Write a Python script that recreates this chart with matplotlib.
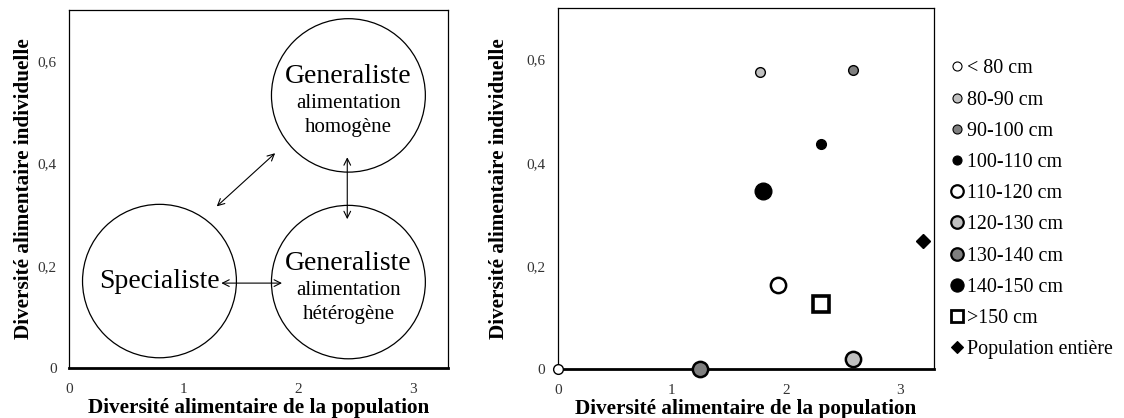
import matplotlib
matplotlib.use("Agg")
import matplotlib.pyplot as plt
from matplotlib.patches import Ellipse
from matplotlib.lines import Line2D

plt.rcParams['font.family'] = ['Liberation Serif', 'DejaVu Serif']

# data (right panel)
classes = ['< 80 cm', '80-90 cm', '90-100 cm', '100-110 cm', '110-120 cm',
           '120-130 cm', '130-140 cm', '140-150 cm', '>150 cm', 'Population entière']
pop_div = [0.0, 1.77, 2.59, 2.31, 1.93, 2.59, 1.25, 1.80, 2.31, 3.20]
ind_div = [0.0, 0.575, 0.579, 0.437, 0.163, 0.019, 0.0, 0.346, 0.126, 0.248]

# marker styles
faces = ['white', '#c0c0c0', '#7f7f7f', 'black', 'white', '#c0c0c0', '#7f7f7f', 'black', 'white', 'black']
shapes = ['o', 'o', 'o', 'o', 'o', 'o', 'o', 'o', 's', 'D']
sizes = [7, 7, 7, 7, 11, 11, 11, 12, 11, 7.5]
edge_w = [1.0, 1.0, 1.0, 1.0, 1.8, 1.8, 1.8, 1.0, 2.6, 1.0]

# schema (left panel)
circle_names = ['Specialiste', 'Generaliste', 'Generaliste']
circle_sub = ['', 'alimentation\nhomogène', 'alimentation\nhétérogène']
circle_x = [0.79, 2.44, 2.44]
circle_y = [0.170, 0.533, 0.168]

xticks = [0, 1, 2, 3]
yticks = [0, 0.2, 0.4, 0.6]
ytick_labels = ['0', '0,2', '0,4', '0,6']
xlab = 'Diversité alimentaire de la population'
ylab = 'Diversité alimentaire individuelle'

fig = plt.figure(figsize=(11.24, 4.18), dpi=100)
ax1 = fig.add_axes([0.0614, 0.1196, 0.3372, 0.8565])
ax2 = fig.add_axes([0.4964, 0.1172, 0.3345, 0.8636])

for ax, ylx in ((ax1, -0.120), (ax2, -0.157)):
    ax.set_xlim(0, 3.31)
    ax.set_ylim(0, 0.70)
    ax.set_xticks(xticks)
    ax.set_yticks(yticks)
    ax.set_yticklabels(ytick_labels)
    ax.tick_params(length=0, labelsize=11, colors='#333333')
    ax.tick_params(axis='x', pad=11)
    ax.tick_params(axis='y', pad=9)
    ax.set_xlabel(xlab, fontsize=15.3, fontweight='bold')
    ax.set_ylabel(ylab, fontsize=15.3, fontweight='bold')
    ax.xaxis.set_label_coords(0.5, -0.112)
    ax.yaxis.set_label_coords(ylx, 0.50)
    ax.xaxis.label.set_va('center')
    ax.yaxis.label.set_va('center')
    for s in ('top', 'right', 'left'):
        ax.spines[s].set_linewidth(0.9)
    ax.spines['bottom'].set_linewidth(2.0)

# left: schema
rx, ry = 0.672, 0.150
for name, sub, cx, cy in zip(circle_names, circle_sub, circle_x, circle_y):
    ax1.add_patch(Ellipse((cx, cy), 2 * rx, 2 * ry, fill=False, lw=0.9, ec='black'))
    if sub:
        ax1.text(cx, cy + 0.036, name, ha='center', va='center', fontsize=20)
        ax1.text(cx, cy - 0.040, sub, ha='center', va='center', fontsize=15, linespacing=1.35)
    else:
        ax1.text(cx, cy, name, ha='center', va='center', fontsize=20)

arrow = dict(arrowstyle='<->', lw=0.8, color='black', mutation_scale=12, shrinkA=0, shrinkB=0)
ax1.annotate('', xy=(1.80, 0.420), xytext=(1.29, 0.316), arrowprops=arrow)
ax1.annotate('', xy=(2.43, 0.412), xytext=(2.43, 0.291), arrowprops=arrow)
ax1.annotate('', xy=(1.86, 0.166), xytext=(1.33, 0.166), arrowprops=arrow)

# right: scatter
ax2.set_xlim(0, 3.30)
for i in range(len(classes)):
    ax2.plot(pop_div[i], ind_div[i], linestyle='none', marker=shapes[i], ms=sizes[i],
             mfc=faces[i], mec='black', mew=edge_w[i], clip_on=False, zorder=5)

handles = []
leg_sizes = [6.5, 6.5, 6.5, 6.5, 9, 9, 9, 9.5, 8.5, 6.5]
leg_ew = [0.8, 0.8, 0.8, 0.8, 1.6, 1.6, 1.6, 0.8, 2.0, 0.8]
for i in range(len(classes)):
    handles.append(Line2D([], [], linestyle='none', marker=shapes[i], ms=leg_sizes[i],
                          mfc=faces[i], mec='black', mew=leg_ew[i]))
fig.legend(handles, classes, loc='upper left', bbox_to_anchor=(0.839, 0.877),
           frameon=False, fontsize=14.4, handlelength=0.6, handletextpad=0.2,
           labelspacing=0.61, borderaxespad=0)

fig.savefig('out.png', dpi=100)
